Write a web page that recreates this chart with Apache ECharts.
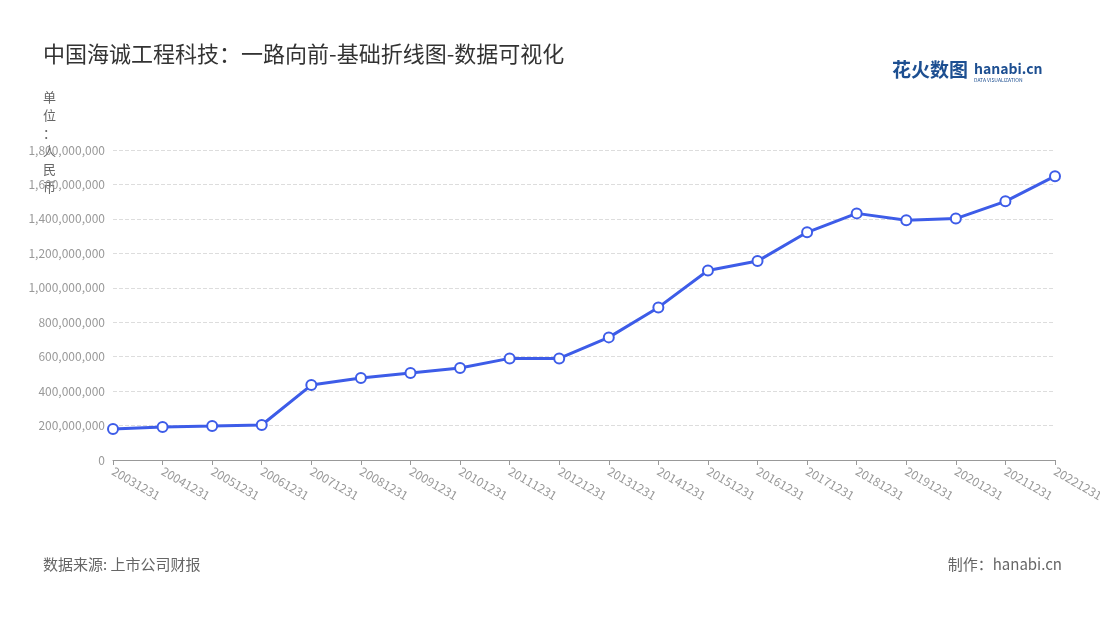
<!DOCTYPE html>
<html><head><meta charset="utf-8">
<script src="https://cdn.jsdelivr.net/npm/echarts@6/dist/echarts.min.js"></script>
<style>html,body{margin:0;background:#fff}#main{width:1100px;height:620px}</style>
</head><body><div id="main"></div>
<script>
var years = ['20031231','20041231','20051231','20061231','20071231','20081231','20091231','20101231','20111231','20121231',
  '20131231','20141231','20151231','20161231','20171231','20181231','20191231','20201231','20211231','20221231'];
var revenue = [180e6,192e6,197e6,203e6,435e6,476e6,505e6,534e6,590e6,590e6,
  712e6,886e6,1100e6,1155e6,1322e6,1432e6,1392e6,1402e6,1502e6,1648e6];

var font = '"Noto Sans CJK SC", "Noto Sans", sans-serif';
var chart = echarts.init(document.getElementById('main'));
chart.setOption({
  textStyle: { fontFamily: font },
  title: {
    text: '中国海诚工程科技：一路向前-基础折线图-数据可视化',
    left: 38, top: 38,
    textStyle: { fontSize: 22, fontWeight: 'normal', color: '#333' }
  },
  graphic: [
    { type: 'text', left: 43, top: 88, style: { text: '单\n位\n：\n人\n民\n币', fill: '#666', font: '13px ' + font, lineHeight: 18 } },
    { type: 'text', left: 892, top: 60, style: { text: '花火数图', fill: '#1d4f91', font: 'bold 19px ' + font } },
    { type: 'text', left: 974, top: 62, style: { text: 'hanabi.cn', fill: '#1d4f91', font: 'bold 14px ' + font } },
    { type: 'text', left: 974, top: 78, style: { text: 'DATA VISUALIZATION', fill: '#1d4f91', font: '5px ' + font } },
    { type: 'text', left: 43, top: 557, style: { text: '数据来源: 上市公司财报', fill: '#666', font: '15px ' + font } },
    { type: 'text', right: 38, top: 557, style: { text: '制作：hanabi.cn', fill: '#666', font: '15px ' + font } }
  ],
  grid: { left: 113, right: 45, top: 150, bottom: 160, outerBoundsMode: 'none' },
  xAxis: {
    type: 'category', data: years, boundaryGap: false,
    axisLine: { lineStyle: { color: '#999' } },
    axisTick: { show: true, alignWithLabel: true, lineStyle: { color: '#999' } },
    axisLabel: { rotate: -30, color: '#999', fontSize: 12, interval: 0, margin: 10 }
  },
  yAxis: {
    type: 'value', min: 0, max: 1800000000, interval: 200000000,
    axisLabel: { color: '#999', fontSize: 12, formatter: function (v) { return v.toLocaleString('en-US'); } },
    splitLine: { lineStyle: { type: 'dashed', color: '#ddd' } },
    axisLine: { show: false }, axisTick: { show: false }
  },
  series: [{
    type: 'line', data: revenue,
    symbol: 'circle', symbolSize: 10,
    lineStyle: { color: '#3d5ce8', width: 3 },
    itemStyle: { color: '#fff', borderColor: '#3d5ce8', borderWidth: 2 }
  }]
});
</script></body></html>
